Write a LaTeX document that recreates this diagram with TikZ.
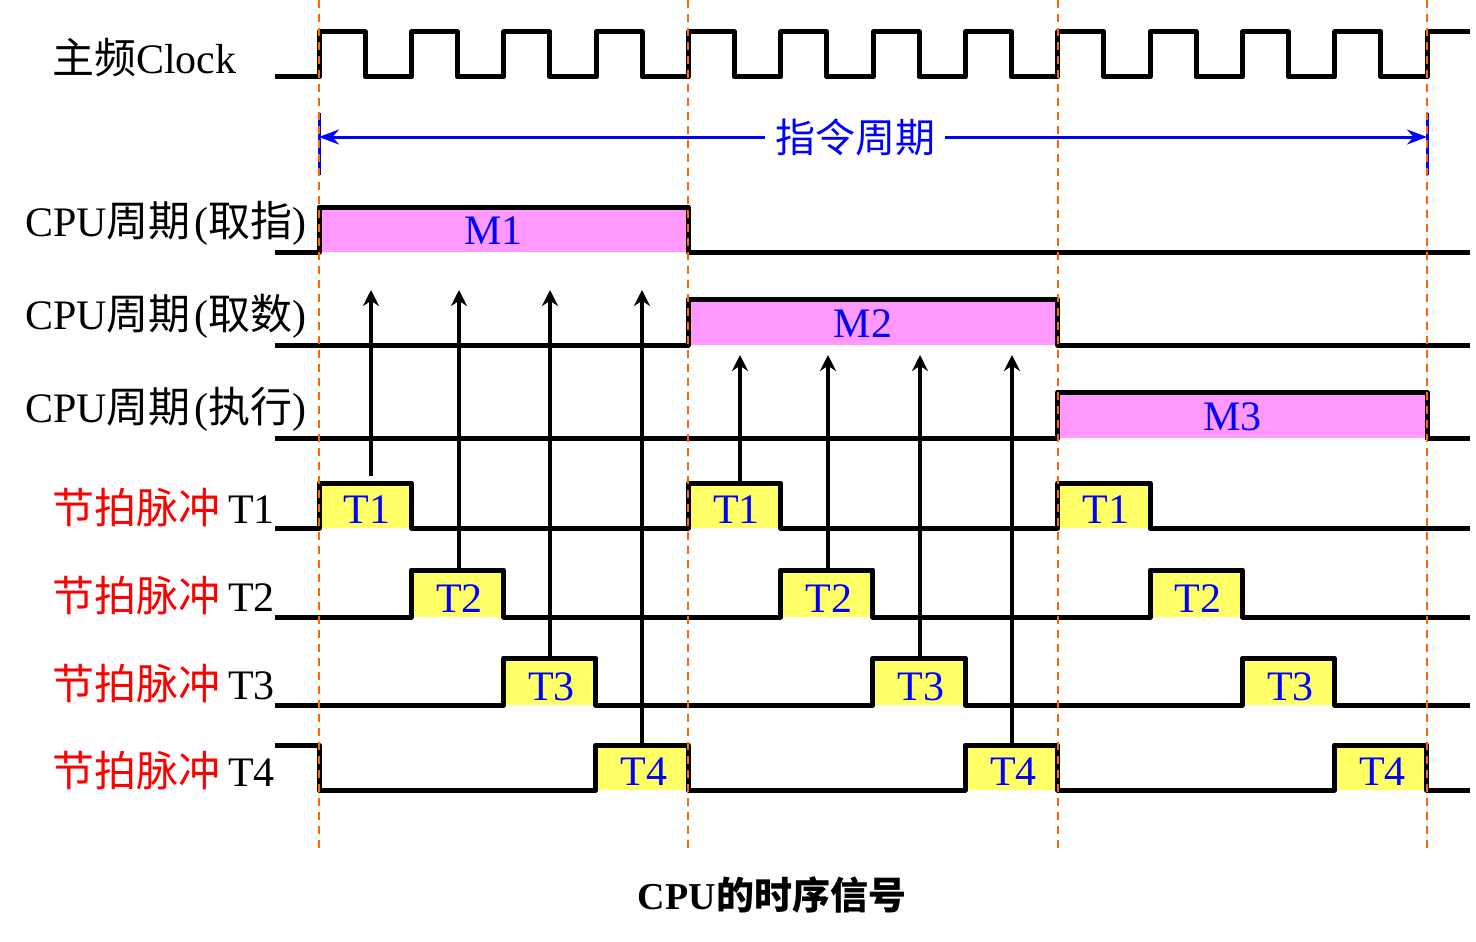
\documentclass[tikz,border=0pt]{standalone}
\usepackage{fontspec}
\setmainfont{Liberation Serif}
\newfontfamily\cjk{Noto Sans CJK SC}
\usetikzlibrary{arrows.meta}
\definecolor{mpink}{HTML}{FF99FF}
\definecolor{tyellow}{HTML}{FFFF66}
\definecolor{gridorange}{HTML}{FF6600}

\begin{document}
\begin{tikzpicture}[x=1pt,y=-1pt,
            wave/.style={line width=5pt,line join=round},
            mbox/.style={fill=mpink},
            tbox/.style={fill=tyellow},
            grid line/.style={gridorange,line width=2pt,dash pattern=on 8pt off 6pt},
            lab/.style={anchor=base west,inner sep=0pt,font=\fontsize{42}{44}\selectfont},
            plab/.style={anchor=base,inner sep=0pt,text=blue,font=\fontsize{42}{44}\selectfont},
            up/.style={line width=4.5pt,-{Stealth[length=16pt,width=16pt]}},
            span/.style={blue,line width=3pt,-{Stealth[length=20pt,width=15pt]}}
            ]
            \useasboundingbox (0,0) rectangle (1476,942);

            % row labels
            \node[lab](clk) at (52,74){{\cjk 主频}Clock};
            \node[lab](fetch) at (25,236){CPU{\cjk 周期}\kern4pt({\cjk 取指})};
            \node[lab](load) at (25,329){CPU{\cjk 周期}\kern4pt({\cjk 取数})};
            \node[lab](exec) at (25,422){CPU{\cjk 周期}\kern4pt({\cjk 执行})};
            \foreach \r/\y in {1/523,2/611,3/699,4/786}
                \node[lab](beat\r) at (52,\y){\textcolor{red}{\cjk 节拍脉冲}\kern8pt T\r};

            % clock
            \draw[wave] (275,77) -- (319,77)
                \foreach \k in {0,...,11}{ -- ++(0,-45) -- ++(46.17,0) -- ++(0,45) -- ++(46.17,0)}
                -- ++(0,-45) -- (1470,32);

            % machine cycles
            \foreach \i/\lo/\hi/\m in {0/252/207/M1,1/345/299/M2,2/438/392/M3}{
                \pgfmathsetmacro\xa{319+\i*369.33}
                \pgfmathsetmacro\xb{\xa+369.33}
                \fill[mbox] (\xa,\hi) rectangle (\xb,\lo);
                \draw[wave] (275,\lo) -- (\xa,\lo) -- (\xa,\hi) -- (\xb,\hi) -- (\xb,\lo) -- (1470,\lo);
                \node[plab](cyc\i) at ({(\xa+\xb)/2-10},{\lo-8}){\m};
            }

            % beat pulses
            \foreach \r/\lo/\hi/\st in {1/528/483/528,2/617/570/617,3/705/658/705,4/790/745/745}{
                \foreach \c in {0,1,2}{
                    \pgfmathsetmacro\xa{319+\c*369.33+(\r-1)*92.33}
                    \fill[tbox] (\xa,\hi) rectangle ++(92.33,{\lo-\hi});
                    \node[plab](t\r\c) at ({\xa+48},{\lo-5}){T\r};
                }
                \draw[wave] (275,\st) -- (319,\st) -- (319,\lo)
                    \foreach \c in {0,1,2}{ -- ({319+\c*369.33+(\r-1)*92.33},\lo) -- ++(0,{\hi-\lo}) -- ++(92.33,0) -- ++(0,{\lo-\hi})}
                    -- (1470,\lo);
            }

            % beats start the cycles
            \foreach \i/\x/\ya/\yb in {1/371/476/290,2/459/570/290,3/550/658/290,4/642/745/290,
                                       5/740/483/355,6/828/570/355,7/920/658/355,8/1012/745/355}{
                \coordinate (from\i) at (\x,\ya);
                \coordinate (to\i) at (\x,\yb);
                \draw[up] (from\i) -- (to\i);
            }

            % instruction cycle
            \node[text=blue,inner xsep=10pt,font=\fontsize{40}{42}\selectfont\cjk](icycle) at (855,137){指令周期};
            \coordinate (istart) at (319,137);
            \coordinate (iend) at (1427,137);
            \draw[span] (icycle.west) -- (istart);
            \draw[span] (icycle.east) -- (iend);
            \draw[blue,line width=3pt] (319,113) -- (319,175) (1427,113) -- (1427,175);

            \foreach \x in {319,688,1058,1427}
                \draw[grid line] (\x,0) -- (\x,848);

            \node[font=\fontsize{38}{40}\selectfont\bfseries](title) at (772,895){CPU{\cjk 的时序信号}};
        \end{tikzpicture}
\end{document}
